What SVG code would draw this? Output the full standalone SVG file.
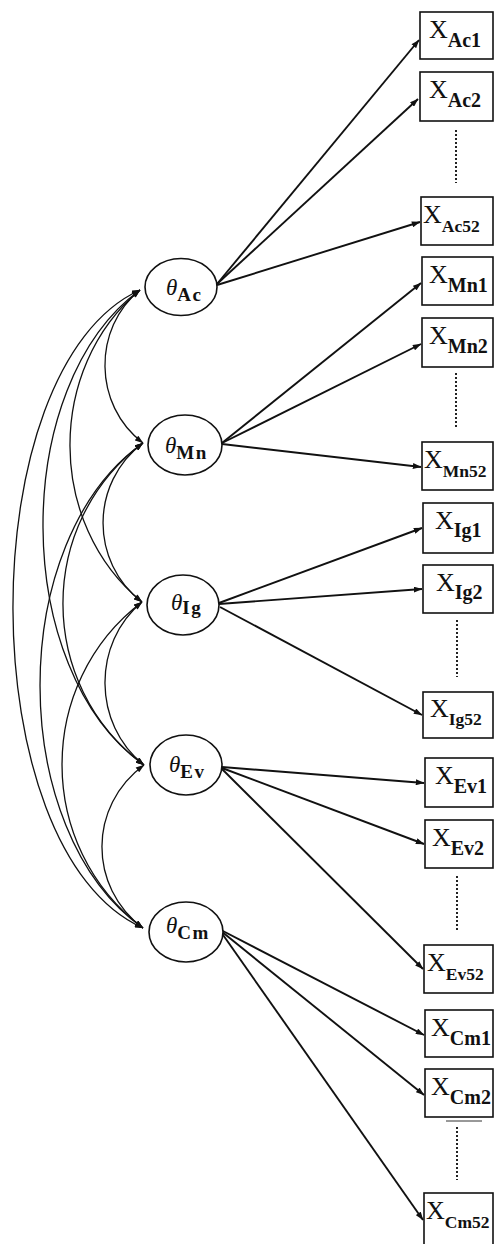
<svg xmlns="http://www.w3.org/2000/svg" width="494" height="1244" viewBox="0 0 494 1244">
<style>
.box{fill:#fff;stroke:#111;stroke-width:1.6}
.lat{fill:#fff;stroke:#111;stroke-width:1.6}
.ld{stroke:#111;stroke-width:1.9;fill:none}
.cov{stroke:#111;stroke-width:1.3;fill:none}
.dots{stroke:#222;stroke-width:2;stroke-dasharray:2 2;fill:none}
.X{font-family:"Liberation Serif",serif;font-size:26px;fill:#111}
.xs{font-family:"Liberation Serif",serif;font-size:20px;font-weight:bold;fill:#111}
.xs52{font-family:"Liberation Serif",serif;font-size:17.5px;font-weight:bold;fill:#111}
.th{font-family:"Liberation Serif",serif;font-size:23px;font-style:italic;fill:#111}
.ts{font-family:"Liberation Serif",serif;font-size:19px;font-weight:bold;font-style:normal;letter-spacing:1.5px;fill:#111}
</style>
<defs>
<marker id="ah" viewBox="0 0 10 7" refX="9.5" refY="3.5" markerWidth="9" markerHeight="6" markerUnits="userSpaceOnUse" orient="auto-start-reverse"><path d="M0,0 L10,3.5 L0,7 z" fill="#111"/></marker>
</defs>
<rect width="494" height="1244" fill="#fff"/>

<g id="connectors">
<g id="loadings">
<line class="ld" x1="217" y1="284" x2="419" y2="40" marker-end="url(#ah)"/>
<line class="ld" x1="217" y1="284" x2="418" y2="99" marker-end="url(#ah)"/>
<line class="ld" x1="217" y1="285" x2="420" y2="222" marker-end="url(#ah)"/>
<line class="ld" x1="222" y1="443" x2="421" y2="283" marker-end="url(#ah)"/>
<line class="ld" x1="222" y1="443" x2="421" y2="344" marker-end="url(#ah)"/>
<line class="ld" x1="222" y1="444" x2="421" y2="467" marker-end="url(#ah)"/>
<line class="ld" x1="219" y1="603" x2="422" y2="528" marker-end="url(#ah)"/>
<line class="ld" x1="219" y1="604" x2="422" y2="589" marker-end="url(#ah)"/>
<line class="ld" x1="220" y1="607" x2="422" y2="715" marker-end="url(#ah)"/>
<line class="ld" x1="222" y1="767" x2="424" y2="783" marker-end="url(#ah)"/>
<line class="ld" x1="222" y1="768" x2="424" y2="844" marker-end="url(#ah)"/>
<line class="ld" x1="222" y1="769" x2="423" y2="969" marker-end="url(#ah)"/>
<line class="ld" x1="221" y1="930" x2="424" y2="1035" marker-end="url(#ah)"/>
<line class="ld" x1="221" y1="931" x2="424" y2="1095" marker-end="url(#ah)"/>
<line class="ld" x1="221" y1="932" x2="423" y2="1220" marker-end="url(#ah)"/>
</g>
<g id="covariances">
<path class="cov" d="M140,290 C92.8,328 92.8,405 143,443" marker-start="url(#ah)" marker-end="url(#ah)"/>
<path class="cov" d="M143,443 C89.9,483 89.9,562 142,602" marker-start="url(#ah)" marker-end="url(#ah)"/>
<path class="cov" d="M142,602 C92.3,643 92.3,724 144,765" marker-start="url(#ah)" marker-end="url(#ah)"/>
<path class="cov" d="M144,765 C88.1,806 88.1,887 143,928" marker-start="url(#ah)" marker-end="url(#ah)"/>
<path class="cov" d="M140,290 C46.3,368 46.3,524 142,602" marker-start="url(#ah)" marker-end="url(#ah)"/>
<path class="cov" d="M143,443 C36.1,523 36.1,685 144,765" marker-start="url(#ah)" marker-end="url(#ah)"/>
<path class="cov" d="M142,602 C35.2,683 35.2,847 143,928" marker-start="url(#ah)" marker-end="url(#ah)"/>
<path class="cov" d="M140,290 C10,385 10,670 144,765" marker-start="url(#ah)" marker-end="url(#ah)"/>
<path class="cov" d="M143,443 C5.7,540 5.7,831 143,928" marker-start="url(#ah)" marker-end="url(#ah)"/>
<path class="cov" d="M140,290 C-29.9,367 -29.9,851 143,928" marker-start="url(#ah)" marker-end="url(#ah)"/>
</g>
</g>

<g id="latent-Ac"><ellipse class="lat" cx="181" cy="287" rx="36" ry="28.5"/><text class="th" x="166" y="295">θ<tspan class="ts" dy="6">Ac</tspan></text></g>
<g id="latent-Mn"><ellipse class="lat" cx="185" cy="445" rx="37" ry="30"/><text class="th" x="165" y="453">θ<tspan class="ts" dy="6">Mn</tspan></text></g>
<g id="latent-Ig"><ellipse class="lat" cx="183" cy="605" rx="36" ry="30"/><text class="th" x="171" y="610">θ<tspan class="ts" dy="4">Ig</tspan></text></g>
<g id="latent-Ev"><ellipse class="lat" cx="186" cy="765" rx="36" ry="30"/><text class="th" x="169" y="772">θ<tspan class="ts" dy="6">Ev</tspan></text></g>
<g id="latent-Cm"><ellipse class="lat" cx="186" cy="932" rx="37" ry="30"/><text class="th" x="166" y="933">θ<tspan class="ts" dy="6">Cm</tspan></text></g>

<g id="obs-Ac1"><rect class="box" x="420" y="12" width="73" height="47"/><text class="X" x="429" y="38">X<tspan class="xs" dy="9">Ac1</tspan></text></g>
<g id="obs-Ac2"><rect class="box" x="420" y="72" width="73" height="49"/><text class="X" x="429" y="98">X<tspan class="xs" dy="9">Ac2</tspan></text></g>
<line class="dots" x1="456" y1="130" x2="456" y2="183"/>
<g id="obs-Ac52"><rect class="box" x="421" y="197" width="72" height="48"/><text class="X" x="423" y="223">X<tspan class="xs52" dy="9">Ac52</tspan></text></g>
<g id="obs-Mn1"><rect class="box" x="422" y="257" width="71" height="48"/><text class="X" x="429" y="283">X<tspan class="xs" dy="9">Mn1</tspan></text></g>
<g id="obs-Mn2"><rect class="box" x="422" y="318" width="71" height="49"/><text class="X" x="429" y="344">X<tspan class="xs" dy="9">Mn2</tspan></text></g>
<line class="dots" x1="456" y1="373" x2="456" y2="428"/>
<g id="obs-Mn52"><rect class="box" x="422" y="442" width="71" height="48"/><text class="X" x="424" y="468">X<tspan class="xs52" dy="9">Mn52</tspan></text></g>
<g id="obs-Ig1"><rect class="box" x="423" y="503" width="70" height="50"/><text class="X" x="435" y="529">X<tspan class="xs" dy="8">Ig1</tspan></text></g>
<g id="obs-Ig2"><rect class="box" x="423" y="565" width="70" height="48"/><text class="X" x="436" y="591">X<tspan class="xs" dy="8">Ig2</tspan></text></g>
<line class="dots" x1="457" y1="620" x2="457" y2="677"/>
<g id="obs-Ig52"><rect class="box" x="423" y="692" width="70" height="46"/><text class="X" x="430" y="717">X<tspan class="xs52" dy="8">Ig52</tspan></text></g>
<g id="obs-Ev1"><rect class="box" x="425" y="758" width="68" height="49"/><text class="X" x="435" y="784">X<tspan class="xs" dy="9">Ev1</tspan></text></g>
<g id="obs-Ev2"><rect class="box" x="425" y="820" width="68" height="48"/><text class="X" x="432" y="846">X<tspan class="xs" dy="9">Ev2</tspan></text></g>
<line class="dots" x1="457" y1="876" x2="457" y2="930"/>
<g id="obs-Ev52"><rect class="box" x="424" y="945" width="69" height="48"/><text class="X" x="427" y="971">X<tspan class="xs52" dy="9">Ev52</tspan></text></g>
<g id="obs-Cm1"><rect class="box" x="425" y="1010" width="68" height="47"/><text class="X" x="431" y="1036">X<tspan class="xs" dy="9">Cm1</tspan></text></g>
<g id="obs-Cm2"><rect class="box" x="425" y="1069" width="68" height="48"/><text class="X" x="431" y="1095">X<tspan class="xs" dy="9">Cm2</tspan></text></g>
<line x1="446" y1="1121" x2="482" y2="1121" stroke="#333" stroke-width="1"/>
<line class="dots" x1="457" y1="1127" x2="457" y2="1180"/>
<g id="obs-Cm52"><rect class="box" x="424" y="1193" width="69" height="52"/><text class="X" x="426" y="1219">X<tspan class="xs52" dy="9">Cm52</tspan></text></g>
</svg>
